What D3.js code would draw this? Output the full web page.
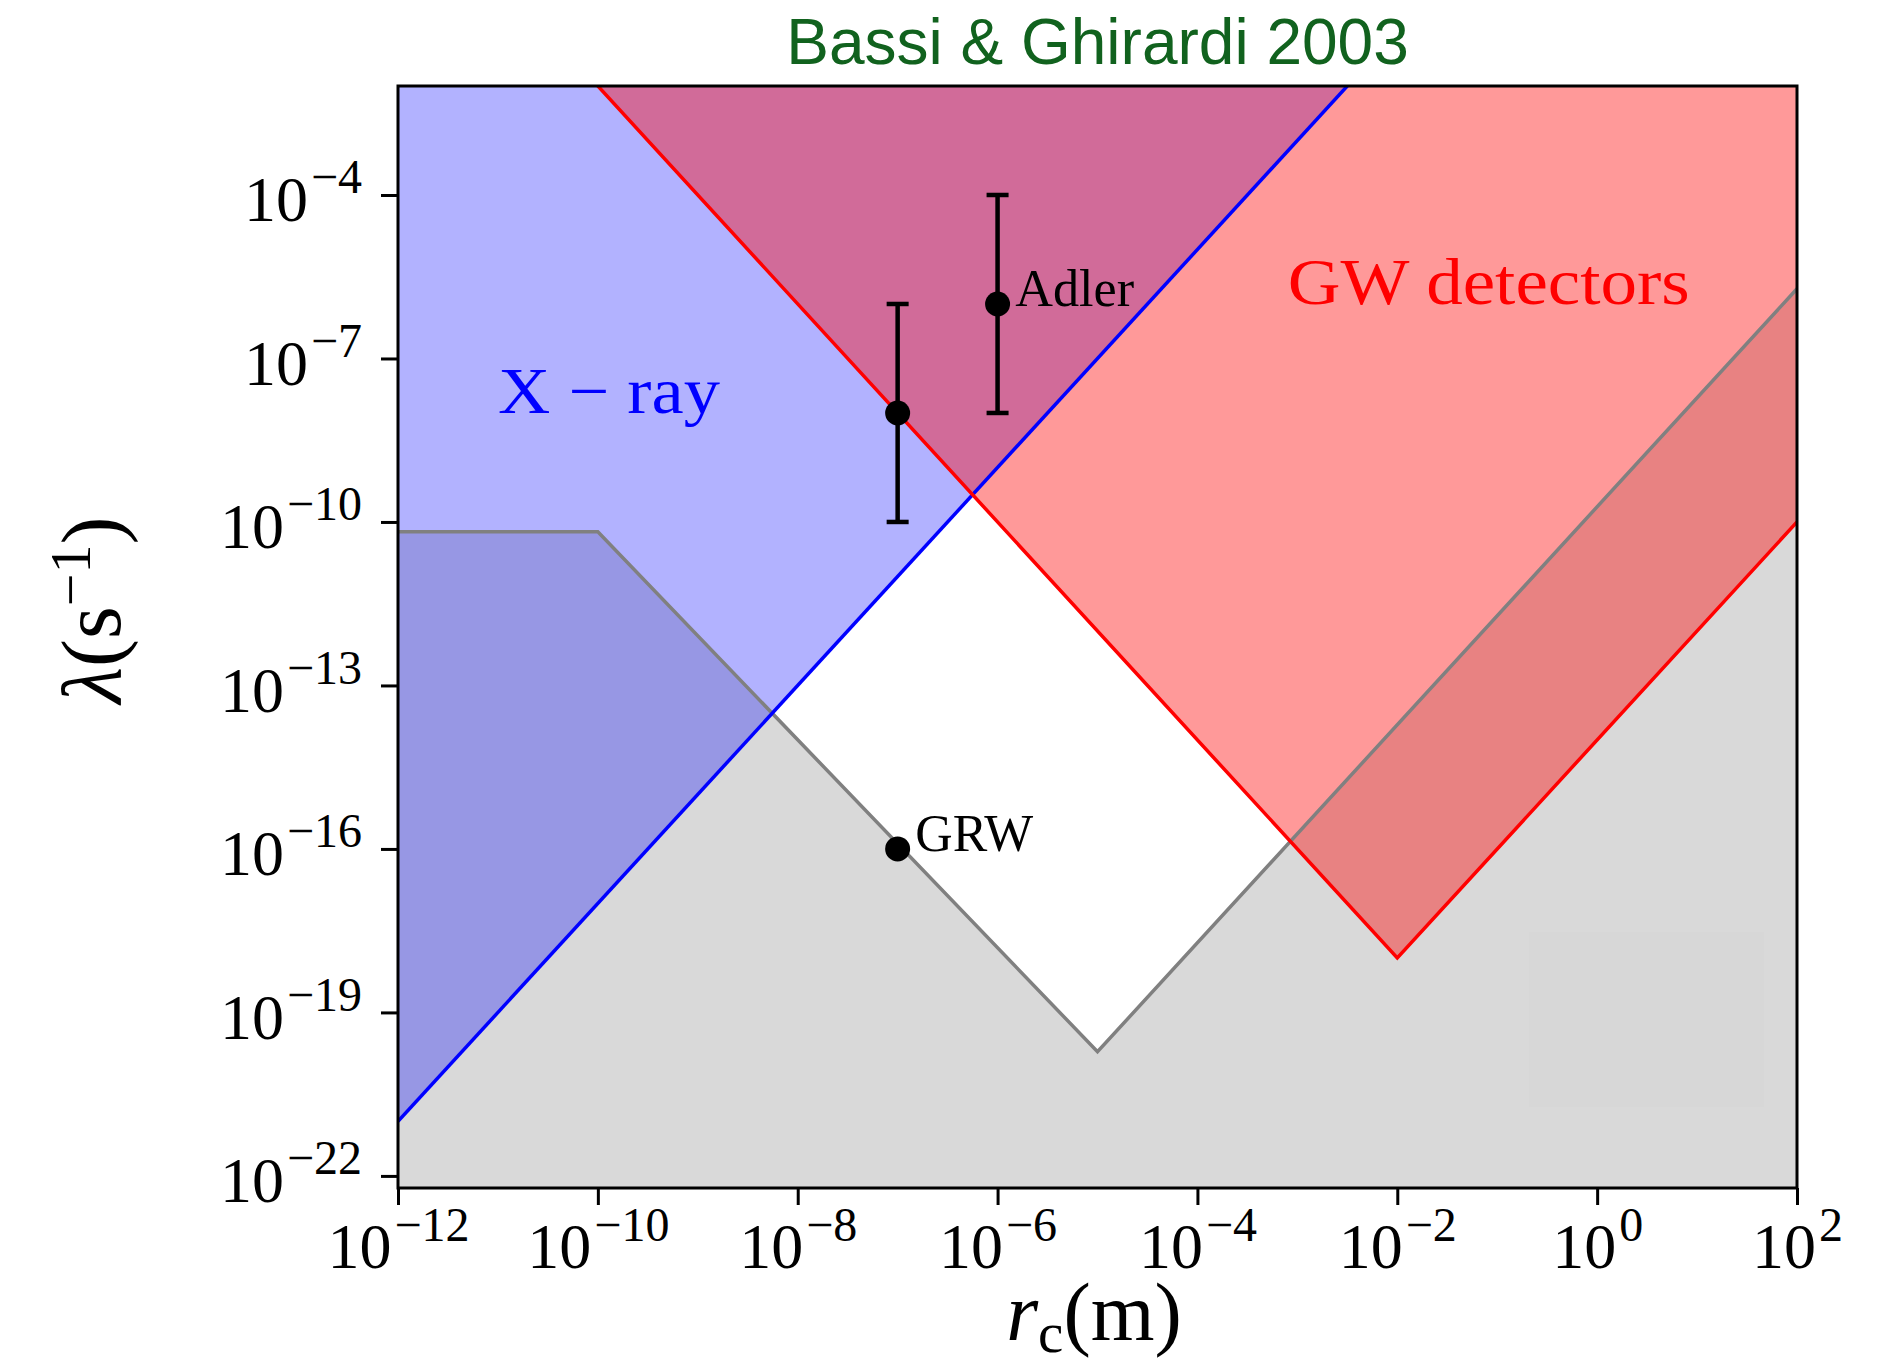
<!DOCTYPE html>
<html lang="en">
<head>
    <meta charset="UTF-8">
    <title>collapse bounds</title>
    <script src="https://d3js.org/d3.v7.min.js"></script>
    <style>
        body { margin: 0; background: #fff; }
        text { font-family: "Liberation Serif", "DejaVu Serif", serif; }
        text.title { font-family: "Liberation Sans", Arial, sans-serif; }
    </style>
</head>
<body>
    <svg width="1895" height="1365"></svg>
    <script>
        // tick values
        const xTicks = [1e-12, 1e-10, 1e-8, 1e-6, 1e-4, 1e-2, 1e0, 1e2];
        const yTicks = [1e-4, 1e-7, 1e-10, 1e-13, 1e-16, 1e-19, 1e-22];

        // bound lines [r_c, lambda]
        const xrayBound = [[1e-12, 1e-21], [1e-2, 1e-1]];
        const gwBound = [[1e-12, 1e2], [1e-2, 1e-18], [1e2, 1e-10]];
        const grwBound = [[1e-12, 6.6e-11], [1e-10, 6.6e-11], [1e-5, 1.9e-20], [1e2, 1.9e-6]];

        // points with error bars
        const points = [
            {r: 1e-7, lam: 1e-8, lo: 1e-10, hi: 1e-6},
            {r: 1e-6, lam: 1e-6, lo: 1e-8, hi: 1e-4},
            {r: 1e-7, lam: 1e-16}
        ];

        // text labels, anchored in data coords
        const labels = [
            {text: 'Adler', r: 1.5e-6, lam: 9e-7, color: 'black', size: 52, len: 119},
            {text: 'GRW', r: 1.5e-7, lam: 9e-17, color: 'black', size: 52, len: 118},
            {text: 'X \u2212 ray', r: 1e-11, lam: 1e-8, color: 'blue', size: 66, len: 222},
            {text: 'GW detectors', r: 8e-4, lam: 1e-6, color: 'red', size: 66, len: 402}
        ];

        const svg = d3.select('svg');
        const pLeft = 398, pRight = 1797, pTop = 86, pBottom = 1188;

        const x = d3.scaleLog().domain([1e-12, 1e2]).range([pLeft, pRight]);
        const y = d3.scaleLog().domain([6e-23, 1e-2]).range([pBottom, pTop]);

        svg.append('defs').append('clipPath').attr('id', 'plot')
            .append('rect')
            .attr('x', pLeft).attr('y', pTop)
            .attr('width', pRight - pLeft).attr('height', pBottom - pTop);

        const plot = svg.append('g').attr('clip-path', 'url(#plot)');

        const line = d3.line().x(d => x(d[0])).y(d => y(d[1]));
        const areaBelow = d3.area().x(d => x(d[0])).y0(pBottom).y1(d => y(d[1]));
        const areaAbove = d3.area().x(d => x(d[0])).y0(pTop).y1(d => y(d[1]));

        // filled regions
        plot.append('path').attr('d', areaBelow(grwBound))
            .attr('fill', '#808080').attr('fill-opacity', 0.3);
        plot.append('path').attr('d', areaAbove(xrayBound))
            .attr('fill', 'blue').attr('fill-opacity', 0.3);
        plot.append('path').attr('d', areaAbove(gwBound))
            .attr('fill', 'red').attr('fill-opacity', 0.4);

        // faint empty legend box
        plot.append('rect')
            .attr('x', 1529).attr('y', 932).attr('width', 235).attr('height', 175)
            .attr('fill', '#d7d7d7');

        // boundary lines
        plot.append('path').attr('d', line(grwBound))
            .attr('fill', 'none').attr('stroke', '#808080').attr('stroke-width', 3.5);
        plot.append('path').attr('d', line(xrayBound))
            .attr('fill', 'none').attr('stroke', 'blue').attr('stroke-width', 3.5);
        plot.append('path').attr('d', line(gwBound))
            .attr('fill', 'none').attr('stroke', 'red').attr('stroke-width', 3.5);

        // error bars + markers
        const bars = points.filter(d => d.lo);
        plot.selectAll('.err').data(bars).join('line')
            .attr('class', 'err')
            .attr('x1', d => x(d.r)).attr('x2', d => x(d.r))
            .attr('y1', d => y(d.lo)).attr('y2', d => y(d.hi))
            .attr('stroke', 'black').attr('stroke-width', 4.5);
        ['lo', 'hi'].forEach(k => {
            plot.selectAll('.cap-' + k).data(bars).join('line')
                .attr('class', 'cap-' + k)
                .attr('x1', d => x(d.r) - 11).attr('x2', d => x(d.r) + 11)
                .attr('y1', d => y(d[k])).attr('y2', d => y(d[k]))
                .attr('stroke', 'black').attr('stroke-width', 4.5);
        });
        plot.selectAll('circle').data(points).join('circle')
            .attr('cx', d => x(d.r)).attr('cy', d => y(d.lam))
            .attr('r', 12.5).attr('fill', 'black');

        // labels
        svg.selectAll('.lbl').data(labels).join('text')
            .attr('class', 'lbl')
            .attr('x', d => x(d.r)).attr('y', d => y(d.lam))
            .attr('fill', d => d.color)
            .attr('font-size', d => d.size)
            .attr('textLength', d => d.len)
            .attr('lengthAdjust', 'spacingAndGlyphs')
            .text(d => d.text);

        // axes
        const sup = (sel, size, shift) => {
            sel.each(function(d) {
                const e = Math.round(Math.log10(d));
                const t = d3.select(this).text(null);
                t.append('tspan').text('10');
                t.append('tspan').attr('font-size', size).attr('dy', -shift).attr('dx', 3)
                    .text(e < 0 ? '\u2212' + (-e) : e);
            });
        };

        const xAxis = svg.append('g')
            .attr('transform', `translate(0, ${pBottom})`)
            .call(d3.axisBottom(x).tickValues(xTicks).tickSize(17).tickFormat(''));
        xAxis.selectAll('.tick text')
            .attr('y', 80).attr('dy', null)
            .attr('font-size', 64).attr('fill', 'black')
            .call(sup, 48, 27);

        const yAxis = svg.append('g')
            .attr('transform', `translate(${pLeft}, 0)`)
            .call(d3.axisLeft(y).tickValues(yTicks).tickSize(17).tickFormat(''));
        yAxis.selectAll('.tick text')
            .attr('x', -36).attr('y', 26).attr('dy', null)
            .attr('font-size', 64).attr('fill', 'black')
            .call(sup, 48, 28);

        svg.selectAll('.domain').remove();
        svg.selectAll('.tick line').attr('stroke', 'black').attr('stroke-width', 3);

        // frame
        svg.append('rect')
            .attr('x', pLeft).attr('y', pTop)
            .attr('width', pRight - pLeft).attr('height', pBottom - pTop)
            .attr('fill', 'none').attr('stroke', 'black').attr('stroke-width', 3);

        // axis titles
        const xl = svg.append('text')
            .attr('x', 1094).attr('y', 1340)
            .attr('text-anchor', 'middle').attr('font-size', 82);
        xl.append('tspan').attr('font-style', 'italic').text('r');
        xl.append('tspan').attr('font-size', 57).attr('dy', 12).text('c');
        xl.append('tspan').attr('dy', -12).text('(m)');

        const yl = svg.append('text')
            .attr('transform', 'translate(120, 610) rotate(-90)')
            .attr('text-anchor', 'middle').attr('font-size', 84);
        yl.append('tspan').attr('font-style', 'italic').text('\u03bb');
        yl.append('tspan').text('(s');
        yl.append('tspan').attr('font-size', 58).attr('dy', -30).text('\u22121');
        yl.append('tspan').attr('dy', 30).text(')');

        // title
        svg.append('text')
            .attr('class', 'title')
            .attr('x', 1097.5).attr('y', 64)
            .attr('text-anchor', 'middle')
            .attr('font-size', 64)
            .attr('fill', '#11621e')
            .text('Bassi & Ghirardi 2003');
    </script>
</body>
</html>
